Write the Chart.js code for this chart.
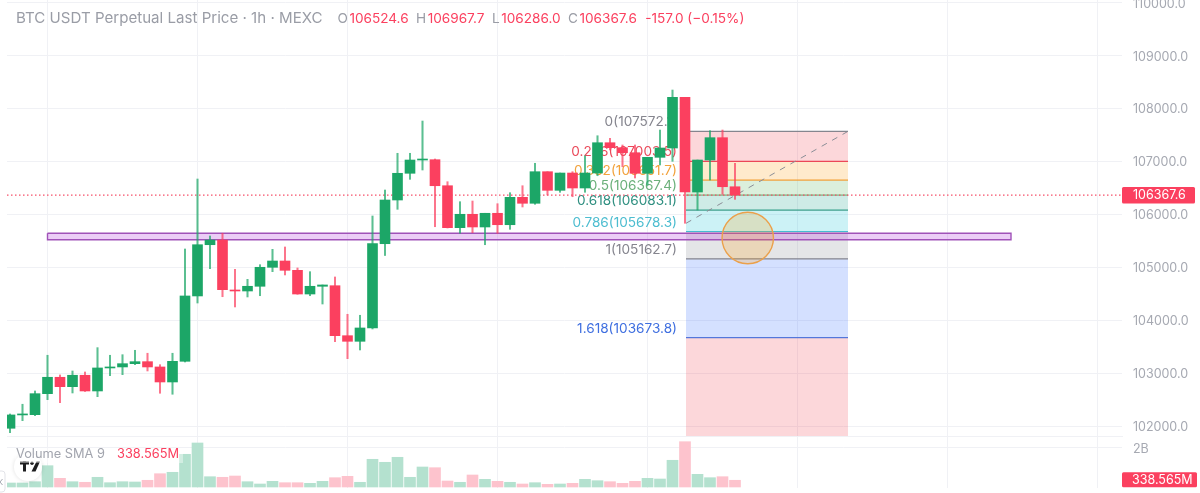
<!DOCTYPE html>
<html><head><meta charset="utf-8">
<script src="https://cdn.jsdelivr.net/npm/chart.js@4/dist/chart.umd.js"></script>
<style>
html,body{margin:0;padding:0;background:#fff;width:1200px;height:493px;overflow:hidden}
canvas{position:absolute;left:0;display:block}
#main{top:0}#vol{top:436px}
</style></head><body>
<canvas id="main" width="1200" height="437"></canvas>
<canvas id="vol" width="1200" height="57"></canvas>
<script>
const opens=[101959,102211,102216,102613,102923,102745,102961,102664,103099,103118,103180,103218,103118,102834,103225,104460,105429,105518,104573,104554,104643,105002,105121,104945,104497,104643,104654,103709,103603,103855,105448,106274,106779,107030,107036,106544,105751,106004,105764,106023,105807,106325,106212,106809,106457,106784,106501,106784,107357,107263,107168,106779,107081,107257,108215,106425,107030,107452,106524.6];
const highs=[102229,102413,102664,103339,102967,103042,103023,103483,103339,103350,103433,103377,103161,103377,105348,106671,105594,105645,104964,104775,105051,105342,105386,104989,104919,104668,104819,104114,104095,105972,106463,107157,107157,107767,107049,106620,106242,106255,106023,106204,106412,106544,106968,106809,106784,106809,107111,107489,107440,107314,107314,107081,107597,108353,108215,107030,107584,107597,106967.7];
const lows=[101876,102103,102197,102500,102443,102626,102655,102556,102953,102972,103161,103042,102621,102602,103212,104327,104976,104446,104252,104441,104465,104919,104857,104492,104465,104308,103596,103275,103439,103836,105225,106098,106665,106841,105769,105745,105645,105656,105429,105645,105720,106142,106193,106369,106420,106336,106420,106733,107219,106903,106690,106558,106936,107005,105834,106085,106652,106382,106286.0];
const closes=[102211,102229,102613,102923,102745,102961,102664,103099,103118,103180,103218,103118,102834,103225,104460,105429,105518,104579,104554,104643,105002,105121,104945,104497,104643,104668,103709,103603,103855,105448,106274,106779,107030,107043,106544,105751,106004,105764,106023,105807,106325,106212,106809,106457,106784,106501,106784,107357,107263,107168,106779,107081,107257,108215,106425,107030,107452,106525,106367.6];
const volumes=[202,202,267,1074,438,267,237,489,217,267,252,338,670,741,1648,2218,519,489,554,267,151,287,217,217,186,287,469,539,237,1396,1245,1497,489,1008,973,302,237,605,388,287,237,151,217,136,151,186,388,318,267,186,287,438,403,1346,2283,640,469,519,338.565];
const priceTicks=[102000,103000,104000,105000,106000,107000,108000,109000,110000];
const volumeTicks=[2000];
const gridIndexes=[3,15,27,39,51,63,75,87];
const fibRatios=["0","0.236","0.382","0.5","0.618","0.786","1","1.618","2.618"];
const fibPrices=[107572.1,107003.5,106651.7,106367.4,106083.1,105678.3,105162.7,103673.8,101264.3];
const fibLines=["#85858e","#ea4a5a","#f2a23c","#7fb585","#3f9f8c","#4dbdd0","#85858e","#5878d8","#ea4a5a"];
const fibFills=["rgba(242,54,69,.2)","rgba(255,152,0,.2)","rgba(76,175,80,.2)","rgba(8,153,129,.2)","rgba(0,188,212,.2)","rgba(120,123,134,.2)","rgba(41,98,255,.2)","rgba(242,54,69,.2)"];
const fibTexts=["#85858e","#ea4a5a","#f2a23c","#6bb07a","#2f8f80","#4dbdd0","#85858e","#3f6fe0"];
const fibSpan=[54.08,67.04];
const trendX=[54.08,67.04];
const trendY=[105834,107572.1];
const zoneX=[3,80.08];
const zoneY=[105645,105524];
const circleAt={x:59.02,y:105556};
const lastPrice=106367.6, lastVolume=338.565;
const headerText="BTC USDT Perpetual Last Price \u00b7 1h \u00b7 MEXC";
const headerKeys=["O","H","L","C"];
const headerVals=["106524.6","106967.7","106286.0","106367.6"];
const headerChange="-157.0 (\u22120.15%)";

const GREEN="#1ca667",RED="#fb405f",GRID="#f0f1f5",AXT="#a6a9b2",FONT="Inter";
const xRange={min:-0.24,max:88.96};
const idx=opens.map((_,i)=>i);
const up=idx.map(i=>closes[i]>=opens[i]);
const xScale=(borderShow)=>({type:"linear",min:xRange.min,max:xRange.max,offset:false,
  afterBuildTicks(s){s.ticks=gridIndexes.map(v=>({value:v}))},
  ticks:{display:false},grid:{color:GRID,offset:false,drawTicks:false},
  border:{display:borderShow,color:GRID}});
const yFit=s=>{s.width=78;s.paddingTop=0;s.paddingBottom=0};

const fibDatasets=fibPrices.map((p,i)=>({type:"line",label:"fib "+fibRatios[i],
  data:fibSpan.map(x=>({x,y:p})),borderColor:i<8?fibLines[i]:"transparent",borderWidth:1.2,
  pointRadius:0,fill:i<8?"+1":false,backgroundColor:fibFills[i],order:6}));
const dsMain=[...fibDatasets,
 {type:"line",label:"trend",data:trendX.map((x,i)=>({x,y:trendY[i]})),borderColor:"#8a8d96",borderWidth:1,borderDash:[6,6],pointRadius:0,fill:false,order:5},
 {type:"line",label:"last",data:[xRange.min,xRange.max].map(x=>({x,y:lastPrice})),borderColor:"#f6506a",borderWidth:1.2,borderDash:[1.5,2.5],pointRadius:0,fill:false,order:4},
 {type:"bar",label:"wicks",data:idx.map(i=>({x:i,y:[lows[i],highs[i]]})),backgroundColor:idx.map(i=>up[i]?"rgba(28,166,103,.72)":"rgba(251,64,95,.72)"),barThickness:1.4,grouped:false,borderWidth:0,order:3},
 {type:"bar",label:"bodies",data:idx.map(i=>({x:i,y:[opens[i],closes[i]]})),backgroundColor:idx.map(i=>up[i]?GREEN:RED),barThickness:10,minBarLength:1,grouped:false,borderWidth:0,order:2},
 {type:"line",label:"zone",data:[[0,0],[1,0],[1,1],[0,1],[0,0]].map(([a,b])=>({x:zoneX[a],y:zoneY[b]})),borderColor:"#a052b8",borderWidth:1.4,backgroundColor:"rgba(190,90,225,.3)",fill:"shape",pointRadius:0,order:5},
 {type:"scatter",label:"circle",data:[circleAt],pointRadius:25.7,pointHoverRadius:25.7,pointBackgroundColor:"rgba(255,152,0,.2)",pointBorderColor:"#eba04a",pointBorderWidth:1.4,order:0}
];

const mainOverlay={id:"mainOverlay",
 beforeDatasetsDraw(c){
  const ctx=c.ctx,y=c.scales.y;
  ctx.save();ctx.font="13.6px "+FONT;ctx.textAlign="right";ctx.textBaseline="alphabetic";
  fibPrices.slice(0,8).forEach((p,i)=>{ctx.fillStyle=fibTexts[i];
    ctx.fillText(fibRatios[i]+"("+p.toFixed(1)+")",677,y.getPixelForValue(p)-5)});
  ctx.restore();
 },
 afterDraw(c){
  const ctx=c.ctx,y=c.scales.y,py=y.getPixelForValue(lastPrice);
  ctx.save();
  ctx.fillStyle=RED;ctx.beginPath();ctx.roundRect(1122,py-8,73,16.5,1.5);ctx.fill();
  ctx.fillStyle="#fff";ctx.font="12.5px "+FONT;ctx.textAlign="left";ctx.textBaseline="middle";
  ctx.fillText(lastPrice.toFixed(1),1133,py+.5);
  ctx.textBaseline="alphabetic";ctx.font="15.1px "+FONT;ctx.fillStyle="#9a9da6";
  ctx.fillText(headerText,16,23);
  ctx.font="13.6px "+FONT;
  let x=337.5;
  headerKeys.forEach((k,i)=>{ctx.fillStyle="#9a9da6";ctx.fillText(k,x,23);x+=ctx.measureText(k).width+1.5;
    ctx.fillStyle=RED;ctx.fillText(headerVals[i],x,23);x+=ctx.measureText(headerVals[i]).width+7.5});
  ctx.fillText(headerChange,x+1,23);
  ctx.restore();
 }};

new Chart(document.getElementById("main"),{type:"bar",data:{datasets:dsMain},plugins:[mainOverlay],
 options:{responsive:false,animation:false,events:[],
  layout:{autoPadding:false,padding:{left:7,right:0,top:0,bottom:1}},
  plugins:{legend:{display:false},tooltip:{enabled:false},title:{display:false}},
  scales:{x:xScale(true),
   y:{type:"linear",position:"right",min:101812.9,max:110054.8,afterFit:yFit,
    afterBuildTicks(s){s.ticks=priceTicks.map(v=>({value:v}))},
    ticks:{padding:11,labelOffset:1,color:AXT,font:{family:FONT,size:12.5},crossAlign:"near",callback:v=>Number(v).toFixed(1)},
    grid:{color:GRID,drawTicks:false},border:{display:false}}}}});

const volOverlay={id:"volOverlay",
 afterDraw(c){
  const ctx=c.ctx;
  ctx.save();
  ctx.fillStyle=RED;ctx.beginPath();ctx.roundRect(1122,36.3,75,15,1.5);ctx.fill();
  ctx.fillStyle="#fff";ctx.font="12.5px "+FONT;ctx.textBaseline="middle";ctx.fillText(lastVolume.toFixed(3)+"M",1132,44.5);
  ctx.shadowColor="rgba(0,0,0,.13)";ctx.shadowBlur=4;ctx.fillStyle="#fff";ctx.beginPath();ctx.arc(28,31,14,0,Math.PI*2);ctx.fill();
  ctx.shadowBlur=0;ctx.fillStyle="#1d1d1f";
  ctx.fillRect(20,25.5,9,3);ctx.fillRect(23,25.5,3,10);ctx.beginPath();ctx.arc(32,27.2,1.7,0,7);ctx.fill();
  ctx.beginPath();ctx.moveTo(36.5,25.5);ctx.lineTo(40,25.5);ctx.lineTo(35.5,35.5);ctx.lineTo(31.5,35.5);ctx.fill();
  ctx.fillStyle="rgba(255,255,255,.4)";ctx.fillRect(15,12,168,15);
  ctx.textBaseline="alphabetic";ctx.font="12.8px "+FONT;ctx.fillStyle="#a2a5ae";ctx.fillText("Volume SMA 9",16,22);
  ctx.fillStyle=RED;ctx.fillText(lastVolume.toFixed(3)+"M",117,22);
  ctx.strokeStyle="#e2e3e8";ctx.lineWidth=1;ctx.beginPath();ctx.roundRect(-6,35,11,21,3);ctx.stroke();
  ctx.strokeStyle="#a6a9b2";ctx.beginPath();ctx.moveTo(2.5,43);ctx.lineTo(0,46);ctx.lineTo(2.5,49);ctx.stroke();
  ctx.restore();
 }};
new Chart(document.getElementById("vol"),{type:"bar",
 data:{datasets:[{label:"Volume",data:idx.map(i=>({x:i,y:volumes[i]})),backgroundColor:idx.map(i=>up[i]?"#b4e1cf":"#fdc3cd"),barThickness:11,grouped:false,borderWidth:0}]},
 plugins:[volOverlay],
 options:{responsive:false,animation:false,events:[],
  layout:{autoPadding:false,padding:{left:7,right:0,top:0,bottom:5}},
  plugins:{legend:{display:false},tooltip:{enabled:false}},
  scales:{x:xScale(false),
   y:{type:"linear",position:"right",min:-50.4,max:2570,afterFit:yFit,
    afterBuildTicks(s){s.ticks=volumeTicks.map(v=>({value:v}))},
    ticks:{padding:11,labelOffset:2,color:AXT,font:{family:FONT,size:12.5},crossAlign:"near",callback:v=>(v/1000)+"B"},
    grid:{color:GRID,drawTicks:false},border:{display:false}}}}});
</script>
</body></html>
